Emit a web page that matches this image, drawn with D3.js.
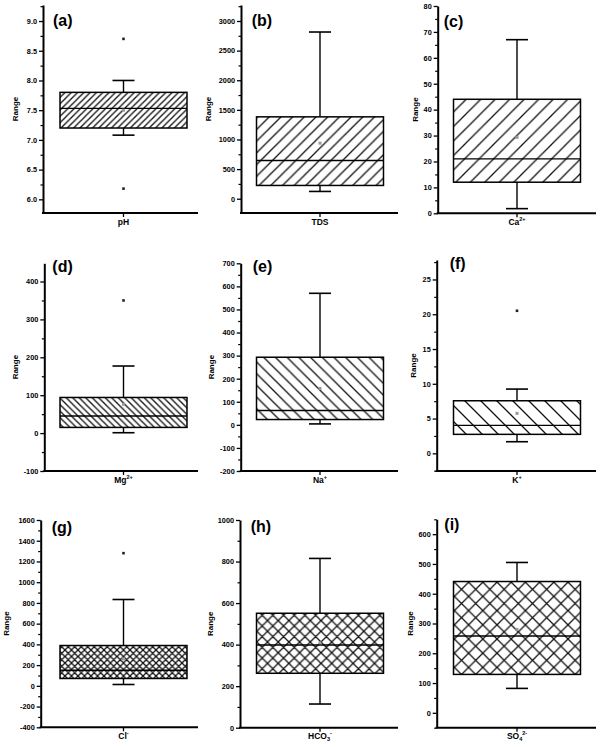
<!DOCTYPE html>
<html><head><meta charset="utf-8">
<script src="https://cdn.jsdelivr.net/npm/d3@7"></script>
<style>
html,body{margin:0;padding:0;background:#fff;}
svg{display:block;font-family:"Liberation Sans",Arial,sans-serif;}
</style></head>
<body>
<svg id="chart" width="600" height="747"></svg>
<script>
// ---------- DATA ----------
const panelIds = ["(a)","(b)","(c)","(d)","(e)","(f)","(g)","(h)","(i)"];
const labelBase = ["pH","TDS","Ca","Mg","Na","K","Cl","HCO","SO"];
const labelSub  = ["","","","","","","","3","4"];
const labelSup  = ["","","2+","2+","+","+","-","-","2-"];
const q1Values     = [7.2, 224, 12, 15, 23, 2.73, 71, 262, 129];
const medianValues = [7.53, 645, 21, 45, 62, 4.02, 150, 398, 258];
const q3Values     = [7.8, 1382, 44, 94, 293, 7.56, 389, 551, 441];
const whiskerLow   = [7.08, 123, 1.8, 1, 4, 1.67, 13, 114, 82];
const whiskerHigh  = [8.0, 2814, 67, 177, 570, 9.24, 833, 815, 505];
const meanValues   = [7.5, 938, 29.3, 76, 158, 5.75, 260, 409, 280];
const outlierValues = [[8.7, 6.18], [], [], [350], [], [20.5], [1280], [], []];
const yMin = [5.77, -241, 0, -100, -200, -2.54, -400, 0, -50];
const yMax = [9.27, 3270, 80, 448, 700, 27.8, 1600, 1000, 650];
const tickFirst = [6.0, 0, 0, -100, -200, 0, -400, 0, 0];
const tickLast  = [9.0, 3000, 80, 400, 700, 25, 1600, 1000, 600];
const tickStep  = [0.5, 500, 10, 100, 100, 5, 200, 200, 100];
const tickDecimals = [1, 0, 0, 0, 0, 0, 0, 0, 0];
const hatchKind = ["fwd","fwd","fwd","back","back","back","cross","cross","cross"];

// ---------- LAYOUT ----------
const axisX      = [43, 241, 437.7, 44.3, 240.7, 436.7, 40.7, 240, 436.7];
const axisTop    = [5, 5, 6, 263.3, 263.3, 260, 520, 520, 519.3];
const axisBottom = [213, 213, 213.3, 471, 471, 471, 727.3, 727.7, 727.7];
const colCenter  = [123.5, 320, 517];
const colEnd     = [198, 398, 596];
const rangeX     = [15, 208.3, 415, 15, 211, 412.7, 6, 210, 410];
const idDx       = [10, 10.7, 6, 8, 12, 13, 11, 10.7, 7.6];
const idBaseline = [26, 26, 26.5, 271.5, 271.5, 269, 533, 531.6, 530];
const hatchPeriod = [6.3, 11.7, 14.5, 6.5, 11.7, 16, 6.5, 10.7, 14.2];

const svg = d3.select("#chart");
const defs = svg.append("defs");

// hatch patterns
panelIds.forEach((id, i) => {
  const p = hatchPeriod[i];
  const pat = defs.append("pattern")
    .attr("id", "hatch" + i)
    .attr("patternUnits", "userSpaceOnUse")
    .attr("width", p).attr("height", p);
  const fwd = `M0,${p} L${p},0 M${-p/2},${p/2} L${p/2},${-p/2} M${p/2},${p*1.5} L${p*1.5},${p/2}`;
  const back = `M0,0 L${p},${p} M${-p/2},${p/2} L${p/2},${p*1.5} M${p/2},${-p/2} L${p*1.5},${p/2}`;
  let d = hatchKind[i] === "fwd" ? fwd : hatchKind[i] === "back" ? back : fwd + " " + back;
  pat.append("path").attr("d", d).attr("stroke", "#111").attr("stroke-width", 1.3).attr("fill", "none");
});

panelIds.forEach((id, i) => {
  const col = i % 3;
  const g = svg.append("g");
  const y = d3.scaleLinear().domain([yMin[i], yMax[i]]).range([axisBottom[i], axisTop[i]]);
  const x = d3.scaleBand().domain([labelBase[i]])
    .range([colCenter[col] - 80, colCenter[col] + 80]).paddingInner(0).paddingOuter(0.13);

  const nMaj = Math.round((tickLast[i] - tickFirst[i]) / tickStep[i]);
  const majors = d3.range(nMaj + 1).map(k => +(tickFirst[i] + k * tickStep[i]).toFixed(4));
  const minors = [];
  for (let k = -1; k <= nMaj; k++) {
    const v = tickFirst[i] + (k + 0.5) * tickStep[i];
    if (v >= yMin[i] && v <= yMax[i]) minors.push(v);
  }

  const fmt = d3.format("." + tickDecimals[i] + "f");
  const yAxis = g.append("g").attr("transform", `translate(${axisX[i]},0)`)
    .call(d3.axisLeft(y).tickValues(majors).tickSize(4).tickSizeOuter(0).tickPadding(2)
      .tickFormat(d => fmt(d).replace("\u2212", "-")));
  yAxis.select(".domain").attr("stroke", "#000").attr("stroke-width", 2);
  yAxis.selectAll(".tick line").attr("stroke", "#000").attr("stroke-width", 1.3);
  yAxis.selectAll(".tick text").attr("font-size", 7.3).attr("font-weight", "bold").attr("fill", "#000")
    .attr("font-family", "'Liberation Sans',Arial,sans-serif");

  const yMinor = g.append("g").attr("transform", `translate(${axisX[i]},0)`)
    .call(d3.axisLeft(y).tickValues(minors).tickSize(2.5).tickSizeOuter(0).tickFormat(""));
  yMinor.select(".domain").remove();
  yMinor.selectAll(".tick line").attr("stroke", "#000").attr("stroke-width", 1.2);

  // x axis
  const xAxis = g.append("g").attr("transform", `translate(0,${axisBottom[i]})`)
    .call(d3.axisBottom(x).tickSize(4).tickSizeOuter(0).tickFormat(""));
  xAxis.select(".domain").remove();
  xAxis.selectAll(".tick line").attr("stroke", "#000").attr("stroke-width", 1.3);
  g.append("line").attr("x1", axisX[i] - 1).attr("x2", colEnd[col])
    .attr("y1", axisBottom[i]).attr("y2", axisBottom[i])
    .attr("stroke", "#000").attr("stroke-width", 2);

  // x label
  const xc = x(labelBase[i]) + x.bandwidth() / 2;
  const t = g.append("text").attr("x", xc).attr("y", axisBottom[i] + 11.5)
    .attr("text-anchor", "middle").attr("font-size", 8.5).attr("font-weight", "bold");
  t.append("tspan").text(labelBase[i]);
  if (labelSub[i]) t.append("tspan").attr("font-size", 5.5).attr("dy", 2).text(labelSub[i]);
  if (labelSup[i]) t.append("tspan").attr("font-size", 5.5).attr("dy", labelSub[i] ? -6 : -4).text(labelSup[i]);

  // y title
  const ym = (axisTop[i] + axisBottom[i]) / 2;
  g.append("text").attr("transform", `translate(${rangeX[i] + 3},${ym}) rotate(-90)`)
    .attr("text-anchor", "middle").attr("font-size", 8).attr("font-weight", "bold").text("Range");

  // panel id
  g.append("text").attr("x", axisX[i] + idDx[i]).attr("y", idBaseline[i])
    .attr("font-size", 16).attr("font-weight", "bold").text(id);

  // box
  const bx = x(labelBase[i]), bw = x.bandwidth();
  const capW = 22;
  g.append("line").attr("x1", xc).attr("x2", xc).attr("y1", y(q3Values[i])).attr("y2", y(whiskerHigh[i]))
    .attr("stroke", "#000").attr("stroke-width", 1.4);
  g.append("line").attr("x1", xc).attr("x2", xc).attr("y1", y(q1Values[i])).attr("y2", y(whiskerLow[i]))
    .attr("stroke", "#000").attr("stroke-width", 1.4);
  [whiskerHigh[i], whiskerLow[i]].forEach(v => {
    g.append("line").attr("x1", xc - capW / 2).attr("x2", xc + capW / 2).attr("y1", y(v)).attr("y2", y(v))
      .attr("stroke", "#000").attr("stroke-width", 1.6);
  });
  g.append("rect").attr("x", bx).attr("y", y(q3Values[i])).attr("width", bw)
    .attr("height", y(q1Values[i]) - y(q3Values[i])).attr("fill", "#fff");
  g.append("rect").attr("x", bx).attr("y", y(q3Values[i])).attr("width", bw)
    .attr("height", y(q1Values[i]) - y(q3Values[i])).attr("fill", `url(#hatch${i})`)
    .attr("stroke", "#000").attr("stroke-width", 1.5);
  g.append("line").attr("x1", bx).attr("x2", bx + bw).attr("y1", y(medianValues[i])).attr("y2", y(medianValues[i]))
    .attr("stroke", "#000").attr("stroke-width", 1.4);

  // mean
  g.append("rect").attr("x", xc - 1.5).attr("y", y(meanValues[i]) - 1.5).attr("width", 3).attr("height", 3)
    .attr("fill", "#999");
  // outliers
  g.selectAll(".out").data(outlierValues[i]).enter().append("rect")
    .attr("x", xc - 1.3).attr("y", d => y(d) - 1.3).attr("width", 2.6).attr("height", 2.6).attr("fill", "#222");
});
</script>
</body></html>
